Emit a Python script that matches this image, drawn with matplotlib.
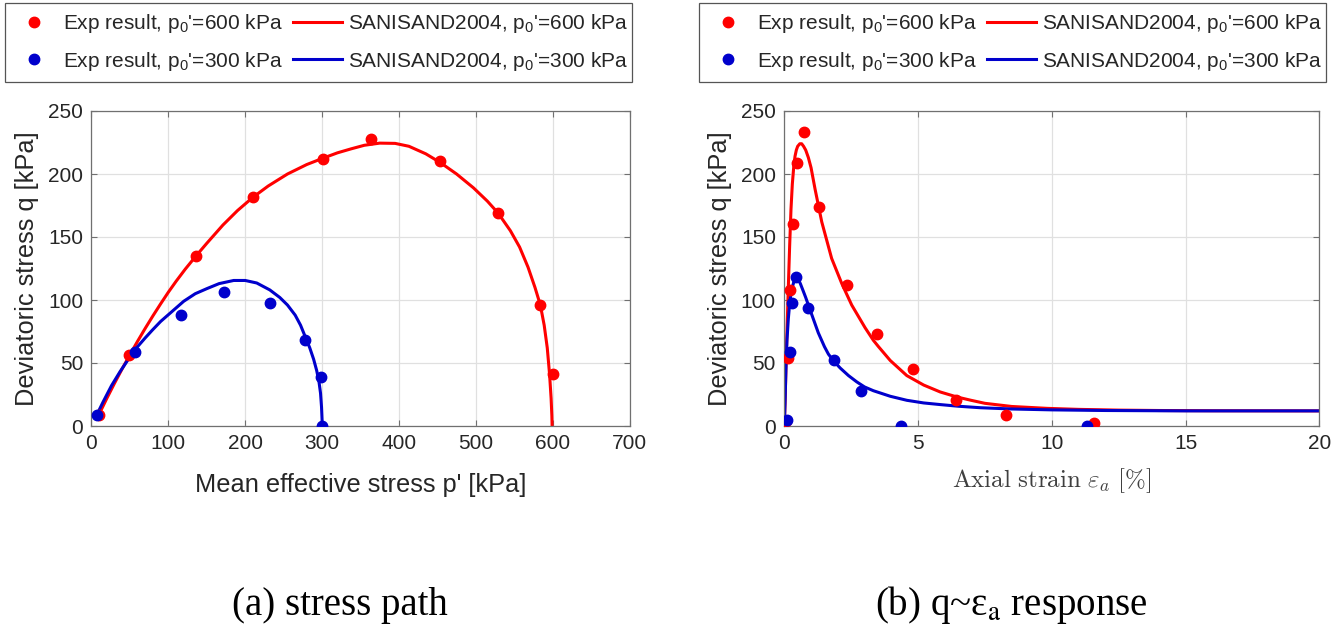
import matplotlib
matplotlib.use("Agg")
import matplotlib.pyplot as plt
from matplotlib.font_manager import FontProperties
from matplotlib.lines import Line2D
from matplotlib.path import Path

# ---- stress path: experimental points (p' [kPa], q [kPa]) ----
exp600_p = [10, 49, 136, 210, 301, 364, 454, 529, 583, 600]
exp600_q = [9, 56, 135, 182, 212, 228, 210, 169, 96, 41]
exp300_p = [7, 57, 117, 172, 232, 278, 298, 300]
exp300_q = [9, 59, 88, 106, 98, 68, 39, 0]

# ---- stress path: SANISAND2004 simulations ----
sim600_p = [10, 20, 30, 40, 50, 60, 70, 80, 90, 100, 110, 122, 136, 150, 171,
            190, 210, 230, 255, 280, 301, 320, 338, 355, 375, 395, 413, 435,
            454, 475, 497, 515, 529, 545, 557, 568, 577, 584, 589, 593, 596,
            598, 599, 599.3]
sim600_q = [9.5, 22, 34, 45.5, 56.6, 67.3, 77.6, 87.5, 97, 106.2, 114.8, 124.5,
            135, 145, 159.5, 171, 181.5, 190.5, 200, 207.5, 212.5, 216.8, 220,
            222.8, 224.5, 224.3, 222, 216, 209, 200, 189, 178.5, 169, 155, 142,
            126, 110, 96, 80, 62, 41, 22, 8, 0]
sim300_p = [7, 15, 26, 37, 48, 60, 70, 79, 90, 105, 120, 135, 150, 166, 185,
            200, 215, 232, 245, 255, 265, 272, 278, 284, 289, 293, 296, 298,
            299.3, 300, 300]
sim300_q = [9, 19, 32, 43, 53, 63, 70, 76, 83, 91, 99, 105, 109, 113, 115.5,
            115.5, 113.5, 108, 102, 96, 88, 80, 71, 62, 53, 44, 35, 26,
            15, 5, 0]

# ---- q ~ axial strain: experimental points (eps_a [%], q [kPa]) ----
exp600_ea = [0.05, 0.15, 0.21, 0.34, 0.49, 0.73, 1.29, 2.36, 3.48, 4.8, 6.42, 8.27, 11.57]
exp600_qa = [4, 54, 108, 160, 209, 233, 174, 112, 73, 45, 21, 9, 2]
exp300_ea = [0.11, 0.21, 0.3, 0.43, 0.9, 1.87, 2.86, 4.36, 11.3]
exp300_qa = [5, 59, 98, 118, 94, 52, 28, 0, 0]

# ---- q ~ axial strain: SANISAND2004 simulations ----
sim600_ea = [0, 0.03, 0.06, 0.1, 0.15, 0.2, 0.25, 0.3, 0.35, 0.4, 0.45, 0.5,
             0.58, 0.65, 0.72, 0.8, 0.9, 1.0, 1.15, 1.4, 1.77, 2.15, 2.52,
             3.02, 3.33, 3.52, 3.96, 4.58, 5.21, 5.83, 6.46, 6.96, 7.5, 8.5, 9.83,
             11.0, 12.5, 14, 16, 20]
sim600_qa = [0, 20, 45, 75, 110, 143, 172, 192, 205, 214, 219, 222,
             224, 224, 222, 219, 213, 205, 188, 162, 133, 113, 96,
             78, 68, 63, 52, 40, 32.5, 27, 23, 20.5, 18, 15.5, 14,
             13.2, 12.6, 12.3, 12.1, 12]
sim300_ea = [0, 0.03, 0.06, 0.1, 0.15, 0.2, 0.25, 0.3, 0.35, 0.4, 0.46, 0.53,
             0.6, 0.71, 0.8, 0.9, 1.0, 1.27, 1.5, 1.65, 1.87, 2.09, 2.4, 2.71,
             3.0, 3.33, 3.96, 4.58, 5.21, 5.83, 6.5, 7.33, 8.5, 10, 12, 15, 20]
sim300_qa = [0, 20, 45, 68, 85, 97, 105, 110, 114, 116.5, 117, 116,
             113, 107, 102, 96, 90, 74, 63, 57, 51, 46, 40, 35,
             31, 28, 23.6, 20.4, 18.3, 17, 15.7, 14.5, 13.5, 12.8, 12.3, 12, 12]

p_ticks = [0, 100, 200, 300, 400, 500, 600, 700]
q_ticks = [0, 50, 100, 150, 200, 250]
ea_ticks = [0, 5, 10, 15, 20]

lab600_exp = "Exp result, p$_0$'=600 kPa"
lab300_exp = "Exp result, p$_0$'=300 kPa"
lab600_sim = "SANISAND2004, p$_0$'=600 kPa"
lab300_sim = "SANISAND2004, p$_0$'=300 kPa"

RED = "#FF0000"
BLUE = "#0000CC"
TXT = "#262626"

plt.rcParams["font.family"] = ["Liberation Sans", "DejaVu Sans"]
plt.rcParams["mathtext.fontset"] = "custom"
plt.rcParams["mathtext.rm"] = "Liberation Sans"
plt.rcParams["mathtext.it"] = "Liberation Sans:italic"

W, H = 1344, 629
fig = plt.figure(figsize=(W / 100, H / 100), dpi=100)

ax1 = fig.add_axes([91.5 / W, (H - 426) / H, 538 / W, 315 / H])
ax2 = fig.add_axes([784.3 / W, (H - 426) / H, 535 / W, 315 / H])

LW = 2.2
MS = 7.5


def style(ax, xlim, xticks):
    ax.set_xlim(*xlim)
    ax.set_ylim(0, 250)
    ax.set_xticks(xticks)
    ax.set_yticks(q_ticks)
    ax.grid(True, color="#e0e0e0", linewidth=0.9)
    ax.set_axisbelow(True)
    for s in ax.spines.values():
        s.set_color("#707070")
        s.set_linewidth(0.9)
    ax.tick_params(direction="in", top=True, right=True, length=4,
                   width=0.8, color="#707070", labelsize=15,
                   labelcolor=TXT, pad=6)


# (a) stress path
ax1.plot(sim600_p, sim600_q, color=RED, lw=LW, zorder=2)
ax1.plot(sim300_p, sim300_q, color=BLUE, lw=LW, zorder=2)
ax1.plot(exp600_p, exp600_q, "o", color=RED, ms=MS, zorder=3)
ax1.plot(exp300_p, exp300_q, "o", color=BLUE, ms=MS, zorder=3)
style(ax1, (0, 700), p_ticks)
ax1.set_xlabel("Mean effective stress p' [kPa]", fontsize=18.3, color=TXT)
ax1.set_ylabel("Deviatoric stress q [kPa]", fontsize=18.3, color=TXT)
ax1.yaxis.set_label_coords(-0.098, 0.5)
ax1.xaxis.set_label_coords(0.5, -0.148)

# (b) q ~ axial strain
ax2.plot(sim600_ea, sim600_qa, color=RED, lw=LW, zorder=2)
ax2.plot(sim300_ea, sim300_qa, color=BLUE, lw=LW, zorder=2)
ax2.plot(exp600_ea, exp600_qa, "o", color=RED, ms=MS, zorder=3)
ax2.plot(exp300_ea, exp300_qa, "o", color=BLUE, ms=MS, zorder=3)
style(ax2, (0, 20), ea_ticks)
ax2.set_xlabel(r"$\mathrm{Axial\ strain}\ \varepsilon_a\ [\%]$", fontsize=18,
               color="#404040", math_fontfamily="cm")
ax2.set_ylabel("Deviatoric stress q [kPa]", fontsize=18.3, color=TXT)
ax2.yaxis.set_label_coords(-0.098, 0.5)
ax2.xaxis.set_label_coords(0.5, -0.127)


def tall_box(x0, y0, width, height, mutation_size, extra=5.0):
    """Rectangular legend frame with extra room above and below the rows."""
    y0 -= extra
    y1 = y0 + height + 2 * extra
    x1 = x0 + width
    verts = [(x0, y0), (x1, y0), (x1, y1), (x0, y1), (x0, y0)]
    codes = [Path.MOVETO, Path.LINETO, Path.LINETO, Path.LINETO, Path.CLOSEPOLY]
    return Path(verts, codes)


# legends above each panel
handles = [
    Line2D([], [], ls="none", marker="o", color=RED, ms=MS),
    Line2D([], [], ls="none", marker="o", color=BLUE, ms=MS),
    Line2D([], [], color=RED, lw=LW),
    Line2D([], [], color=BLUE, lw=LW),
]
labels = [lab600_exp, lab300_exp, lab600_sim, lab300_sim]

for x0 in (5, 699):
    leg = fig.legend(handles, labels, ncol=2, loc="upper left",
                     bbox_to_anchor=(x0 / W, 1 - 8 / H),
                     bbox_transform=fig.transFigure,
                     prop=FontProperties(family="Liberation Sans", size=15),
                     frameon=True, fancybox=False, framealpha=1,
                     edgecolor="#555555", borderpad=0.2, borderaxespad=0,
                     handlelength=2.35, handletextpad=0.25,
                     columnspacing=0.5, labelspacing=0.7, numpoints=1)
    frame = leg.get_frame()
    frame.set_linewidth(0.9)
    frame.set_boxstyle(tall_box)
    for t in leg.get_texts():
        t.set_color(TXT)

# panel captions
fig.text(340 / W, 1 - 605 / H, "(a) stress path", ha="center", va="center",
         fontsize=28, family="Liberation Serif", color="black")
fig.text(1011 / W, 1 - 605 / H, r"(b) q~ε$_{\mathrm{a}}$ response", ha="center",
         va="center", fontsize=28, family="Liberation Serif", color="black",
         math_fontfamily="stix")

fig.savefig("out.png", dpi=100)
